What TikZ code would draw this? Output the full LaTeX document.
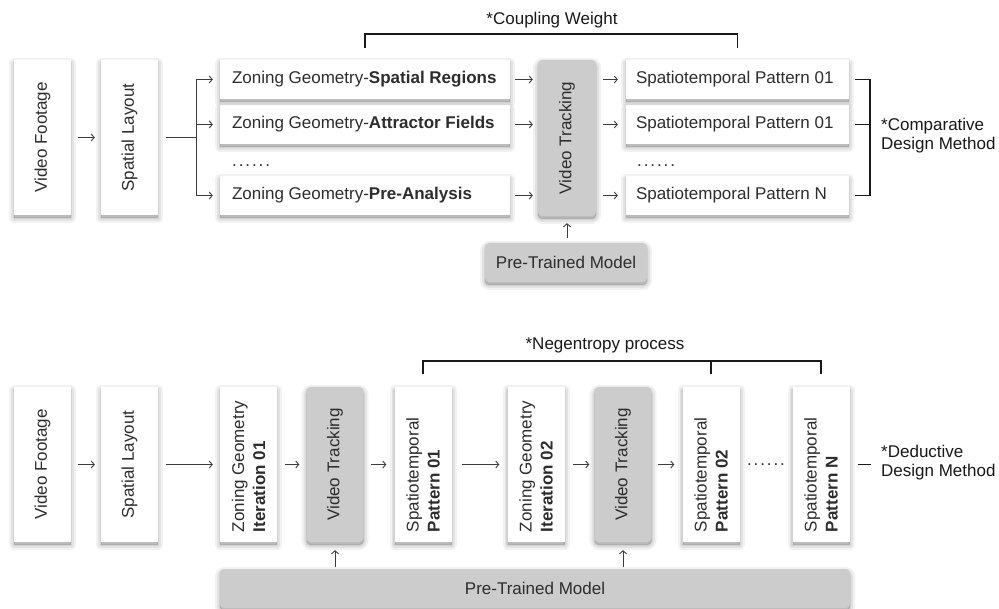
\documentclass[tikz,border=0pt]{standalone}
\usepackage{fontspec}
\setmainfont{Liberation Sans}
\usepackage{graphicx}
\usetikzlibrary{arrows.meta}

\definecolor{ink}{RGB}{45,45,45}
\definecolor{lineink}{RGB}{60,60,60}
\definecolor{headink}{RGB}{25,25,25}
\definecolor{boxgrey}{RGB}{204,204,204}

% rotated box texts
\newcommand\vtext[1]{\rotatebox{90}{#1}}
\newcommand\vtwo[2]{\rotatebox{90}{\parbox{135pt}{\fontsize{17}{21}\selectfont\raggedright #1\\\textbf{#2}}}}
% one-line texts in the wide boxes, flush left
\newcommand\zgline[1]{\makebox[266pt][l]{#1}}
\newcommand\spline[1]{\makebox[203pt][l]{#1}}
\newcommand\sixdots{.\kern1.9pt.\kern1.9pt.\kern1.9pt.\kern1.9pt.\kern1.9pt.}

\tikzset{
  txt/.style={font=\fontsize{17}{20}\selectfont, text=ink},
  % soft shadow: stacked translucent outlines, shifted downwards
  softshadow/.style={
    preaction={draw=black, fill=black, opacity=0.05, line width=10pt, line join=round,
      transform canvas={yshift=-3pt}},
    preaction={draw=black, fill=black, opacity=0.06, line width=6pt, line join=round,
      transform canvas={yshift=-3pt}},
    preaction={draw=black, fill=black, opacity=0.07, line width=2.5pt, line join=round,
      transform canvas={yshift=-3pt}}},
  whitebox/.style={txt, fill=white, softshadow},
  greybox/.style={txt, fill=boxgrey, rounded corners=4pt, softshadow},
  tallbox/.style={minimum width=57pt, minimum height=155pt, inner sep=0pt},
  zgbox/.style={minimum height=39pt, inner ysep=0pt, inner xsep=12pt},
  spbox/.style={minimum height=39pt, inner ysep=0pt, inner xsep=10pt},
  arr/.style={draw=lineink, line width=0.9pt,
      -{Straight Barb[length=3pt, width=7pt]}},
  plainline/.style={draw=lineink, line width=0.9pt},
  bracket/.style={draw=headink, line width=1.6pt},
  headtext/.style={font=\fontsize{17}{19}\selectfont, text=headink, inner sep=0pt},
}

\begin{document}
\begin{tikzpicture}[x=1pt, y=-1pt]
\useasboundingbox (0,0) rectangle (999,609);
\fill[white] (0,0) rectangle (999,609);

% ---------- comparative design method ----------
\node[whitebox, tallbox] (vfa) at (42.5,137.5) {\vtext{Video Footage}};
\node[whitebox, tallbox] (sla) at (129.5,137.5) {\vtext{Spatial Layout}};

\node[whitebox, zgbox] (zga) at (365,79.5) {\zgline{Zoning Geometry-\textbf{Spatial Regions}}};
\node[whitebox, zgbox] (zgb) at (365,124.5) {\zgline{Zoning Geometry-\textbf{Attractor Fields}}};
\node[whitebox, zgbox] (zgc) at (365,195.5) {\zgline{Zoning Geometry-\textbf{Pre-Analysis}}};
\node[txt, anchor=base west, inner sep=0pt] (zgdots) at (232,166.5) {\sixdots};

\node[greybox, minimum width=58pt, minimum height=156pt, inner sep=0pt] (vta) at (567,138) {\vtext{Video Tracking}};

\node[whitebox, spbox] (spa) at (737.5,79.5) {\spline{Spatiotemporal Pattern 01}};
\node[whitebox, spbox] (spb) at (737.5,124.5) {\spline{Spatiotemporal Pattern 01}};
\node[whitebox, spbox] (spc) at (737.5,195.5) {\spline{Spatiotemporal Pattern N}};
\node[txt, anchor=base west, inner sep=0pt] (spdots) at (637,166.5) {\sixdots};

\node[greybox, minimum width=162pt, minimum height=39pt, inner sep=0pt] (ptma) at (566,262.5) {Pre-Trained Model};

\draw[arr, shorten <=7pt, shorten >=6pt] (vfa) -- (sla);
\coordinate (jn) at (196.5,137.5);
\draw[plainline, shorten <=8pt] (sla.east) -- (jn);
\draw[arr, shorten >=7pt] (jn) |- (zga.west);
\draw[arr, shorten >=7pt] (jn) |- (zgc.west);
\draw[arr, shorten >=7pt] (jn |- zgb.west) -- (zgb.west);

\foreach \z in {zga,zgb,zgc}
  \draw[arr, shorten <=5pt, shorten >=5pt] (\z.east) -- (\z.east -| vta.west);
\foreach \s in {spa,spb,spc}
  \draw[arr, shorten <=7pt, shorten >=8pt] (\s.west -| vta.east) -- (\s.west);
\draw[arr, shorten <=5pt, shorten >=7pt] (ptma.north -| vta.south) -- (vta.south);

\draw[bracket] ([yshift=12pt]zga.north) |- ([yshift=26pt]spa.north) -- ([yshift=12pt]spa.north);
\node[headtext, anchor=base] (cw) at (552,25) {*Coupling Weight};

\draw[bracket] ([xshift=6pt]spa.east) -| ([xshift=21pt]spc.east) -- ([xshift=6pt]spc.east);
\draw[bracket] ([xshift=6pt]spb.east) -- ([xshift=21pt]spb.east);
\node[headtext, anchor=west, align=left] (cdm) at (881,136) {*Comparative\\Design Method};

% ---------- deductive design method ----------
\node[whitebox, tallbox] (vfb) at (42.5,464.5) {\vtext{Video Footage}};
\node[whitebox, tallbox] (slb) at (129.5,464.5) {\vtext{Spatial Layout}};
\node[whitebox, tallbox] (zg1) at (248.5,464.5) {\vtwo{Zoning Geometry}{Iteration 01}};
\node[greybox, tallbox] (vt1) at (335,464.5) {\vtext{Video Tracking}};
\node[whitebox, tallbox] (sp1) at (423,464.5) {\vtwo{Spatiotemporal}{Pattern 01}};
\node[whitebox, tallbox] (zg2) at (536,464.5) {\vtwo{Zoning Geometry}{Iteration 02}};
\node[greybox, tallbox] (vt2) at (623,464.5) {\vtext{Video Tracking}};
\node[whitebox, tallbox] (sp2) at (711,464.5) {\vtwo{Spatiotemporal}{Pattern 02}};
\node[txt, anchor=base, inner sep=0pt] (pdots) at (766,465) {\sixdots};
\node[whitebox, tallbox] (spn) at (821,464.5) {\vtwo{Spatiotemporal}{Pattern N}};

\node[greybox, minimum width=630pt, minimum height=39pt, inner sep=0pt] (ptmb) at (535,588.5) {Pre-Trained Model};

\draw[arr, shorten <=7pt, shorten >=6pt] (vfb) -- (slb);
\draw[arr, shorten <=8pt, shorten >=7pt] (slb) -- (zg1);
\draw[arr, shorten <=8pt, shorten >=7pt] (zg1) -- (vt1);
\draw[arr, shorten <=7pt, shorten >=8pt] (vt1) -- (sp1);
\draw[arr, shorten <=10pt, shorten >=8pt] (sp1) -- (zg2);
\draw[arr, shorten <=8pt, shorten >=5pt] (zg2) -- (vt2);
\draw[arr, shorten <=6pt, shorten >=8pt] (vt2) -- (sp2);
\draw[arr, shorten <=2pt, shorten >=8pt] (ptmb.north -| vt1.south) -- (vt1.south);
\draw[arr, shorten <=2pt, shorten >=8pt] (ptmb.north -| vt2.south) -- (vt2.south);

\draw[bracket] ([yshift=13pt]sp1.north) |- ([yshift=26pt]spn.north) -- ([yshift=13pt]spn.north);
\draw[bracket] ([yshift=13pt]sp2.north) -- ([yshift=26pt]sp2.north);
\node[headtext, anchor=base] (np) at (605,350) {*Negentropy process};

\draw[bracket] ([xshift=8pt]spn.east) -- ([xshift=21pt]spn.east);
\node[headtext, anchor=west, align=left] (ddm) at (881,463) {*Deductive\\Design Method};
\end{tikzpicture}
\end{document}
